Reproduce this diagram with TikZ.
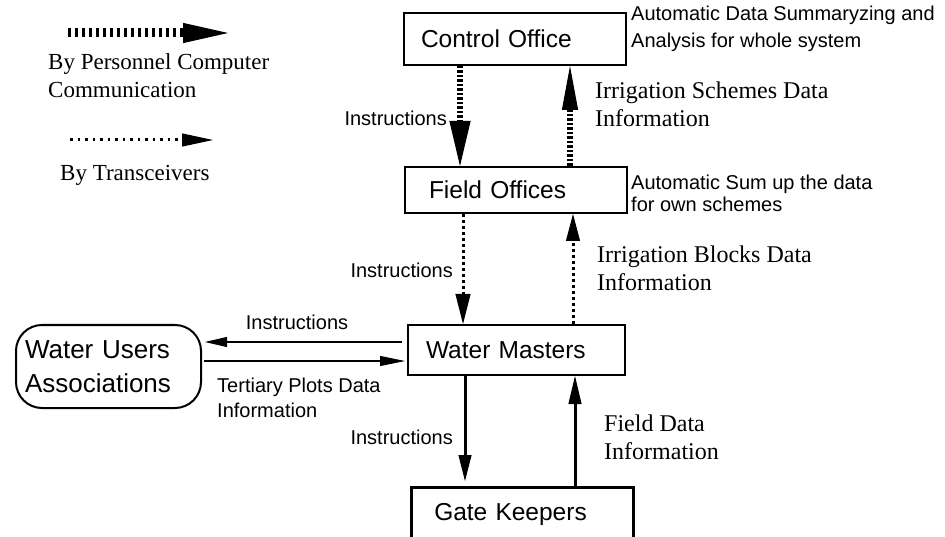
\documentclass[tikz,border=0pt]{standalone}
\usepackage{fontspec}
\setmainfont{Liberation Sans}
\newfontfamily\serifface{Liberation Serif}
\usetikzlibrary{arrows.meta}

\begin{document}
\begin{tikzpicture}[x=1pt,y=-1pt,
  box/.style={draw, line width=2pt, anchor=north west, align=left, inner ysep=0pt,
              font=\fontsize{24.5}{29}\selectfont},
  lbl/.style={inner sep=0pt, align=left, font=\fontsize{20}{25}\selectfont},
  slbl/.style={inner sep=0pt, align=left, font=\serifface\fontsize{24}{28}\selectfont},
  pc/.style={line width=6pt, dash pattern=on 2.5pt off 2pt},
  radio/.style={line width=3pt, dash pattern=on 3pt off 3pt},
  wire/.style={line width=3pt},
  thinwire/.style={line width=1.5pt},
]
\useasboundingbox (0,0) rectangle (945,537);
\clip (0,0) rectangle (945,537);

% legend
\coordinate (l1a) at (68,33);
\coordinate (l1b) at (228,33);
\coordinate (l2a) at (70,140);
\coordinate (l2b) at (213,140);
\draw[pc, line width=9pt, dash pattern=on 3pt off 4pt,
      -{Triangle[length=45pt,width=20pt,line width=1pt]}] (l1a) -- (l1b);
\draw[radio, dash pattern=on 2.5pt off 5pt,
      -{Triangle[length=31pt,width=13pt,line width=1pt]}] (l2a) -- (l2b);
\node[slbl, anchor=west, font=\serifface\fontsize{23}{28}\selectfont] (g1) at (48,76)
  {By Personnel Computer\\Communication};
\node[slbl, anchor=west, font=\serifface\fontsize{23}{28}\selectfont] (g2) at (60,175)
  {By Transceivers};

% offices
\node[box, minimum width=222pt, minimum height=52pt, inner xsep=17pt, text width=188pt] (co) at (403,12) {Control Office};
\node[box, minimum width=222pt, minimum height=46pt, inner xsep=24pt, text width=174pt] (fo) at (404,166) {Field Offices};
\node[box, minimum width=217pt, minimum height=50pt, inner xsep=18pt, text width=181pt] (wm) at (407,324) {Water Masters};
\node[box, line width=2.5pt, minimum width=222pt, minimum height=54pt, inner xsep=23pt, text width=176pt] (gk) at (410,486) {Gate Keepers};
\node[box, rounded corners=26pt, minimum width=185pt, minimum height=83pt, inner xsep=9pt, text width=167pt,
      font=\fontsize{26}{34}\selectfont] (wua) at (15,324) {Water Users\\Associations};

% connector columns and rows
\coordinate (c1) at (460,0);
\coordinate (c2) at (570,0);
\coordinate (c3) at (463,0);
\coordinate (c4) at (573,0);
\coordinate (c5) at (465,0);
\coordinate (c6) at (575,0);
\coordinate (r1) at (0,342);
\coordinate (r2) at (0,361);

\draw[pc, -{Triangle[length=45pt,width=21pt,line width=1pt]}] (co.south -| c1) -- (fo.north -| c1);
\draw[pc, -{Triangle[length=44pt,width=16pt,line width=1pt]}] (fo.north -| c2) -- (co.south -| c2);
\draw[radio, -{Triangle[length=30pt,width=15pt,line width=1pt]}] (fo.south -| c3) -- (wm.north -| c3);
\draw[radio, -{Triangle[length=27pt,width=14pt,line width=1pt]}] (wm.north -| c4) -- (fo.south -| c4);
\draw[wire, -{Triangle[length=26pt,width=13pt,line width=1pt]}, shorten >=5pt] (wm.south -| c5) -- (gk.north -| c5);
\draw[wire, -{Triangle[length=28pt,width=13pt,line width=1pt]}] (gk.north -| c6) -- (wm.south -| c6);
\draw[thinwire, -{Triangle[length=22pt,width=10pt,line width=1pt]}, shorten <=5pt, shorten >=3pt] (wm.west |- r1) -- (wua.east |- r1);
\draw[thinwire, -{Triangle[length=25pt,width=10pt,line width=1pt]}, shorten <=2pt, shorten >=2pt] (wua.east |- r2) -- (wm.west |- r2);

% labels
\node[lbl, anchor=west, font=\fontsize{20}{27}\selectfont] (t1) at (631,29) {Automatic Data Summaryzing and\\Analysis for whole system};
\node[slbl, anchor=west] (t2) at (595,104) {Irrigation Schemes Data\\Information};
\node[lbl, anchor=east] (t3) at (447,118) {Instructions};
\node[lbl, anchor=west, font=\fontsize{20}{22}\selectfont] (t4) at (631,193) {Automatic Sum up the data\\for own schemes};
\node[slbl, anchor=west] (t5) at (597,268) {Irrigation Blocks Data\\Information};
\node[lbl, anchor=east] (t6) at (453,270) {Instructions};
\node[lbl] (t7) at (297,322) {Instructions};
\node[lbl, anchor=west] (t8) at (217,398) {Tertiary Plots Data\\Information};
\node[lbl, anchor=east] (t9) at (453,437) {Instructions};
\node[slbl, anchor=west] (t10) at (604,437) {Field Data\\Information};
\end{tikzpicture}
\end{document}
